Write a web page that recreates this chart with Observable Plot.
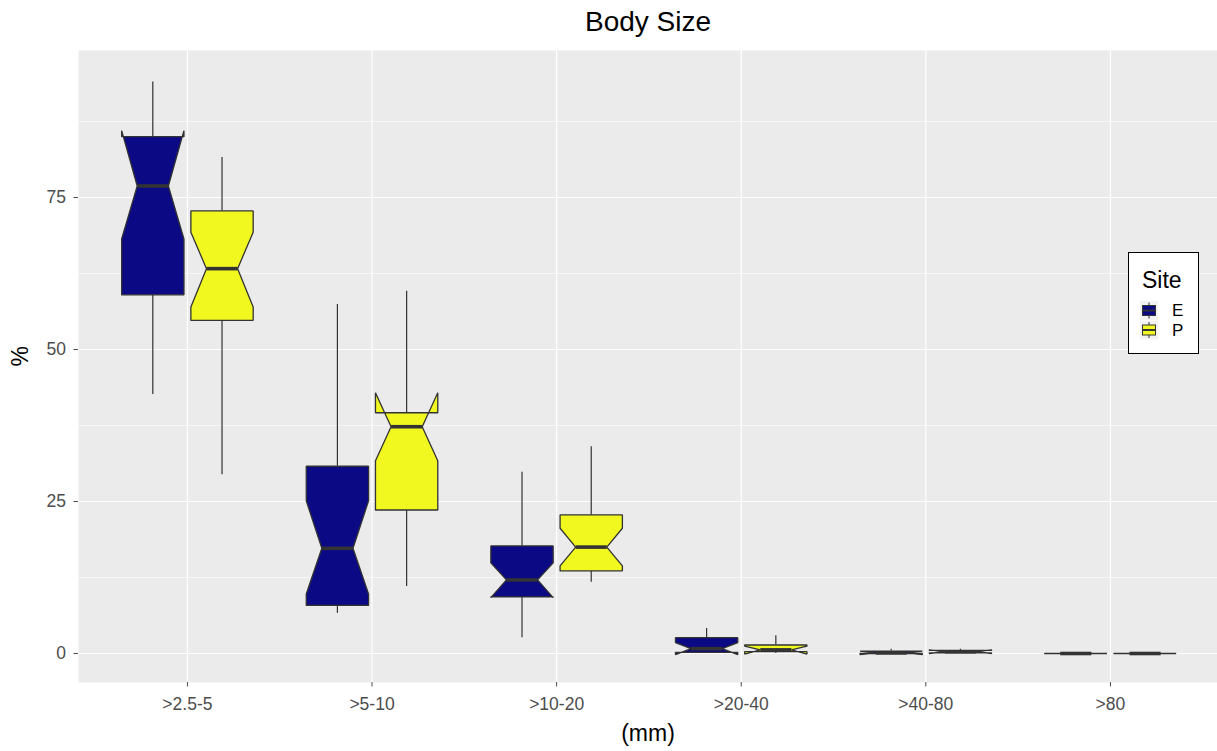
<!DOCTYPE html>
<html>
<head>
<meta charset="utf-8">
<script src="https://cdn.jsdelivr.net/npm/d3@7"></script>
<script src="https://cdn.jsdelivr.net/npm/@observablehq/plot@0.6"></script>
<style>
  html, body { margin: 0; padding: 0; background: #fff; }
  #wrap { position: relative; width: 1217px; height: 751px; font-family: "Liberation Sans", Arial, sans-serif; }
  #legend { position: absolute; left: 1128px; top: 252px; }
</style>
</head>
<body>
<div id="wrap"></div>
<script>
// ---- data ----
const categories = [">2.5-5", ">5-10", ">10-20", ">20-40", ">40-80", ">80"];
const sites = ["E", "P"];
const siteColors = ["#0B0983", "#F1F820"];

const E_whiskerLow  = [42.6,  6.6,  2.6, 0.0, 0.0, 0.0];
const E_q1          = [59.0,  7.9,  9.3, 0.2, 0.0, 0.0];
const E_median      = [76.9, 17.3, 12.1, 0.8, 0.1, 0.0];
const E_q3          = [85.0, 30.8, 17.7, 2.6, 0.4, 0.0];
const E_whiskerHigh = [94.0, 57.4, 29.8, 4.1, 0.7, 0.0];
const E_notchLow    = [68.2,  9.8,  9.2, -0.2, -0.2, 0.0];
const E_notchHigh   = [86.0, 25.1, 14.9, 1.8, 0.4, 0.0];

const P_whiskerLow  = [29.4, 11.0, 11.7, 0.0, 0.0, 0.0];
const P_q1          = [54.8, 23.6, 13.6, 0.3, 0.1, 0.0];
const P_median      = [63.3, 37.3, 17.5, 0.6, 0.3, 0.0];
const P_q3          = [72.8, 39.6, 22.8, 1.4, 0.5, 0.0];
const P_whiskerHigh = [81.6, 59.6, 34.0, 2.9, 0.7, 0.0];
const P_notchLow    = [57.0, 31.7, 14.4, -0.1, 0.0, 0.0];
const P_notchHigh   = [69.3, 42.9, 20.6, 1.2, 0.6, 0.0];

const yMajor = [0, 25, 50, 75];
const yMinor = [12.5, 37.5, 62.5, 87.5];

const titleText = "Body Size";
const xLabel = "(mm)";
const yLabel = "%";
const legendTitle = "Site";

// ---- build box table ----
const stats = {
  E: {lo: E_whiskerLow, q1: E_q1, med: E_median, q3: E_q3, hi: E_whiskerHigh, nl: E_notchLow, nh: E_notchHigh},
  P: {lo: P_whiskerLow, q1: P_q1, med: P_median, q3: P_q3, hi: P_whiskerHigh, nl: P_notchLow, nh: P_notchHigh}
};
const dodge = 0.75 / 2;          // slot width per site
const halfW = dodge * 0.9 / 2;   // box half-width (padding 0.1)
const notchHalf = halfW * 0.5;   // notch width 0.5
const boxes = [];
sites.forEach((s, k) => {
  categories.forEach((c, i) => {
    const st = stats[s];
    boxes.push({
      id: s + i, site: s, i,
      cx: i + (k - 0.5) * dodge,
      lo: st.lo[i], q1: st.q1[i], med: st.med[i], q3: st.q3[i], hi: st.hi[i], nl: st.nl[i], nh: st.nh[i]
    });
  });
});
const poly = [];
for (const b of boxes) {
  const xl = b.cx - halfW, xr = b.cx + halfW, ml = b.cx - notchHalf, mr = b.cx + notchHalf;
  const pts = [
    [xl, b.q1], [xl, b.nl], [ml, b.med], [xl, b.nh], [xl, b.q3],
    [xr, b.q3], [xr, b.nh], [mr, b.med], [xr, b.nl], [xr, b.q1], [xl, b.q1]
  ];
  pts.forEach(([x, y]) => poly.push({id: b.id, site: b.site, x, y}));
}

const font = "'Liberation Sans', Arial, sans-serif";
const chart = Plot.plot({
  width: 1217,
  height: 751,
  marginLeft: 78,
  marginRight: 0,
  marginTop: 50,
  marginBottom: 69,
  style: {fontFamily: font, background: "#fff"},
  x: {type: "linear", domain: [-0.59, 5.58]},
  y: {domain: [-4.77, 99.18]},
  color: {domain: sites, range: siteColors},
  marks: [
    Plot.frame({fill: "#EBEBEB", stroke: "none"}),
    Plot.ruleY(yMinor, {stroke: "#fff", strokeWidth: 0.6}),
    Plot.ruleY(yMajor, {stroke: "#fff", strokeWidth: 1.2}),
    Plot.ruleX(d3.range(categories.length), {stroke: "#fff", strokeWidth: 1.2}),
    Plot.axisY({ticks: yMajor, tickSize: 4.5, tickPadding: 8, fontSize: 17.5, color: "#4D4D4D", label: null}),
    Plot.axisX({ticks: d3.range(categories.length), tickFormat: i => categories[i], tickSize: 4.5, tickPadding: 11, fontSize: 17.5, color: "#4D4D4D", label: null}),
    Plot.ruleX(boxes, {x: "cx", y1: "q3", y2: "hi", stroke: "#333", strokeWidth: 1.2}),
    Plot.ruleX(boxes, {x: "cx", y1: "q1", y2: "lo", stroke: "#333", strokeWidth: 1.2}),
    Plot.line(poly, {x: "x", y: "y", z: "id", fill: "site", stroke: "#333", strokeWidth: 1.3, curve: "linear", strokeLinejoin: "miter"}),
    Plot.link(boxes, {x1: d => d.cx - notchHalf, x2: d => d.cx + notchHalf, y1: "med", y2: "med", stroke: "#333", strokeWidth: 3.6, strokeLinecap: "butt"}),
    Plot.text([titleText], {text: d => d, frameAnchor: "top", lineAnchor: "middle", dy: -28, fontSize: 28, fill: "#000"}),
    Plot.text([xLabel], {text: d => d, frameAnchor: "bottom", lineAnchor: "middle", dy: 51, fontSize: 23, fill: "#000"}),
    Plot.text([yLabel], {text: d => d, frameAnchor: "left", dx: -58, rotate: -90, fontSize: 23, fill: "#000"})
  ]
});
document.getElementById("wrap").appendChild(chart);

// ---- legend (ggplot-style, inside the panel) ----
const lg = d3.select("#wrap").append("svg").attr("id", "legend")
  .attr("width", 72).attr("height", 103)
  .style("font-family", font);
lg.append("rect").attr("x", 0.5).attr("y", 0.5).attr("width", 70).attr("height", 101)
  .attr("fill", "#fff").attr("stroke", "#000").attr("stroke-width", 1);
lg.append("text").attr("x", 14).attr("y", 36).attr("font-size", 23).text(legendTitle);
sites.forEach((s, k) => {
  const y0 = 49 + k * 19.5;
  const g = lg.append("g").attr("transform", `translate(12,${y0})`);
  g.append("rect").attr("width", 18).attr("height", 19).attr("fill", "#F2F2F2");
  g.append("line").attr("x1", 9).attr("x2", 9).attr("y1", 1.5).attr("y2", 17.5).attr("stroke", "#333").attr("stroke-width", 1);
  g.append("rect").attr("x", 2.5).attr("y", 4.5).attr("width", 13).attr("height", 10)
    .attr("fill", siteColors[k]).attr("stroke", "#333").attr("stroke-width", 1);
  g.append("line").attr("x1", 2.5).attr("x2", 15.5).attr("y1", 9.5).attr("y2", 9.5).attr("stroke", "#333").attr("stroke-width", 2);
  lg.append("text").attr("x", 44).attr("y", y0 + 9.5).attr("dy", "0.35em").attr("font-size", 17).text(s);
});
</script>
</body>
</html>
